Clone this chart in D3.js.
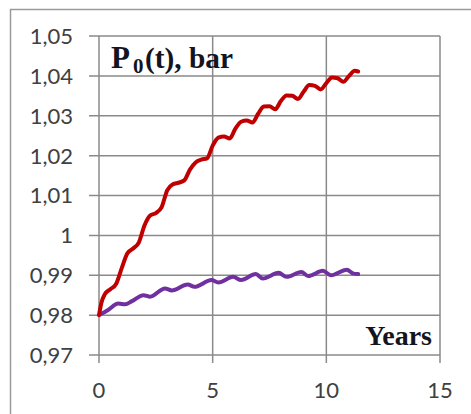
<!DOCTYPE html>
<html>
<head>
<meta charset="utf-8">
<script src="https://cdn.jsdelivr.net/npm/d3@7"></script>
<style>
  body { margin: 0; background: #fff; }
  svg { display: block; }
</style>
</head>
<body>
<svg id="chart" width="471" height="414"></svg>
<script>
// values
var redYears = [0, 0.1, 0.25, 0.5, 0.75, 1, 1.25, 1.5, 1.75, 2, 2.25, 2.5, 2.75, 3, 3.25, 3.5, 3.75,
  4, 4.25, 4.5, 4.75, 5, 5.25, 5.5, 5.75, 6, 6.25, 6.5, 6.75, 7, 7.25, 7.5, 7.75,
  8, 8.25, 8.5, 8.75, 9, 9.25, 9.5, 9.75, 10, 10.25, 10.5, 10.75, 11, 11.25, 11.4];
var redP0 = [0.9800, 0.9830, 0.9852, 0.9865, 0.9878, 0.9918, 0.9955, 0.9967, 0.9982, 1.0025, 1.0050, 1.0056, 1.0070,
  1.0113, 1.0128, 1.0132, 1.0138, 1.0165, 1.0183, 1.0190, 1.0193, 1.0225, 1.0245, 1.0248, 1.0243,
  1.0268, 1.0285, 1.0288, 1.0283, 1.0305, 1.0323, 1.0324, 1.0316, 1.0337, 1.0351, 1.0350, 1.0342,
  1.0360, 1.0377, 1.0375, 1.0366, 1.0382, 1.0396, 1.0394, 1.0385, 1.0400, 1.0413, 1.0411];

var purpleYears = [0, 0.4, 0.85, 1.15, 1.45, 1.95, 2.25, 2.9, 3.2, 3.9, 4.2, 4.95, 5.25, 5.9, 6.25,
  6.9, 7.2, 7.9, 8.25, 8.9, 9.2, 9.85, 10.2, 10.9, 11.2, 11.4];
var purpleP0 = [0.9800, 0.9813, 0.9829, 0.9827, 0.9835, 0.9850, 0.9846, 0.9867, 0.9862, 0.9877, 0.9871,
  0.9888, 0.9882, 0.9896, 0.9888, 0.9903, 0.9892, 0.9906, 0.9896, 0.9908, 0.9898, 0.9911, 0.9900,
  0.9914, 0.9904, 0.9903];

var xTicks = [0, 5, 10, 15];
var yTicks = [0.97, 0.98, 0.99, 1.00, 1.01, 1.02, 1.03, 1.04, 1.05];

var svg = d3.select('#chart');
var grid_color = '#8a8a8a';
var serif = '"Liberation Serif", "Times New Roman", serif';

// outer chart frame (only left and top edges visible)
svg.append('path')
  .attr('d', 'M10.5,414 L10.5,9.5 L471,9.5')
  .attr('fill', 'none')
  .attr('stroke', '#9a9a9a')
  .attr('stroke-width', 1.5);

var x = d3.scaleLinear().domain([0, 15]).range([99, 440]);
var y = d3.scaleLinear().domain([0.97, 1.05]).range([355, 36]);

var fmt = function(d){
  var s = d3.format('.2f')(d).replace('.', ',');
  if (d === 1) s = '1';
  return s;
};

// horizontal grid + left ticks
svg.append('g')
  .selectAll('line')
  .data(yTicks)
  .enter()
  .append('line')
  .attr('x1', 89).attr('x2', x(15))
  .attr('y1', d => y(d)).attr('y2', d => y(d))
  .attr('stroke', grid_color)
  .attr('stroke-width', 1.5);

// vertical grid + bottom ticks
svg.append('g')
  .selectAll('line')
  .data(xTicks)
  .enter()
  .append('line')
  .attr('x1', d => x(d)).attr('x2', d => x(d))
  .attr('y1', y(1.05)).attr('y2', y(0.97) + 8)
  .attr('stroke', grid_color)
  .attr('stroke-width', 1.5);

var label_font = 'Lato, "Open Sans", sans-serif';

svg.append('g')
  .selectAll('text')
  .data(yTicks)
  .enter()
  .append('text')
  .attr('x', 73)
  .attr('y', d => y(d))
  .attr('dy', '0.36em')
  .attr('text-anchor', 'end')
  .style('font-family', label_font)
  .style('font-size', '22px')
  .style('fill', '#404040')
  .text(fmt);

svg.append('g')
  .selectAll('text')
  .data(xTicks)
  .enter()
  .append('text')
  .attr('x', d => x(d))
  .attr('y', 398)
  .attr('text-anchor', 'middle')
  .style('font-family', label_font)
  .style('font-size', '22px')
  .style('fill', '#404040')
  .text(d => d);

// series
var line = d3.line()
  .x(d => x(d[0]))
  .y(d => y(d[1]))
  .curve(d3.curveMonotoneX);

svg.append('path')
  .datum(purpleYears.map((t, i) => [t, purpleP0[i]]))
  .attr('d', line)
  .attr('fill', 'none')
  .attr('stroke', '#7030a0')
  .attr('stroke-width', 4)
  .attr('stroke-linecap', 'round')
  .attr('stroke-linejoin', 'round');

svg.append('path')
  .datum(redYears.map((t, i) => [t, redP0[i]]))
  .attr('d', line)
  .attr('fill', 'none')
  .attr('stroke', '#c00000')
  .attr('stroke-width', 4)
  .attr('stroke-linecap', 'round')
  .attr('stroke-linejoin', 'round');

// titles
svg.append('text')
  .attr('x', 111)
  .attr('y', 68)
  .style('font-family', serif)
  .style('font-weight', 'bold')
  .style('font-size', '31px')
  .style('fill', '#141420')
  .text('P');

svg.append('text')
  .attr('x', 133)
  .attr('y', 73)
  .style('font-family', serif)
  .style('font-weight', 'bold')
  .style('font-size', '21px')
  .style('fill', '#141420')
  .text('0');

svg.append('text')
  .attr('x', 145)
  .attr('y', 68)
  .attr('textLength', 88)
  .attr('lengthAdjust', 'spacingAndGlyphs')
  .style('font-family', serif)
  .style('font-weight', 'bold')
  .style('font-size', '30px')
  .style('fill', '#141420')
  .text('(t), bar');

svg.append('text')
  .attr('x', 432)
  .attr('y', 345)
  .attr('text-anchor', 'end')
  .style('font-family', serif)
  .style('font-weight', 'bold')
  .style('font-size', '28px')
  .style('fill', '#141420')
  .text('Years');
</script>
</body>
</html>
